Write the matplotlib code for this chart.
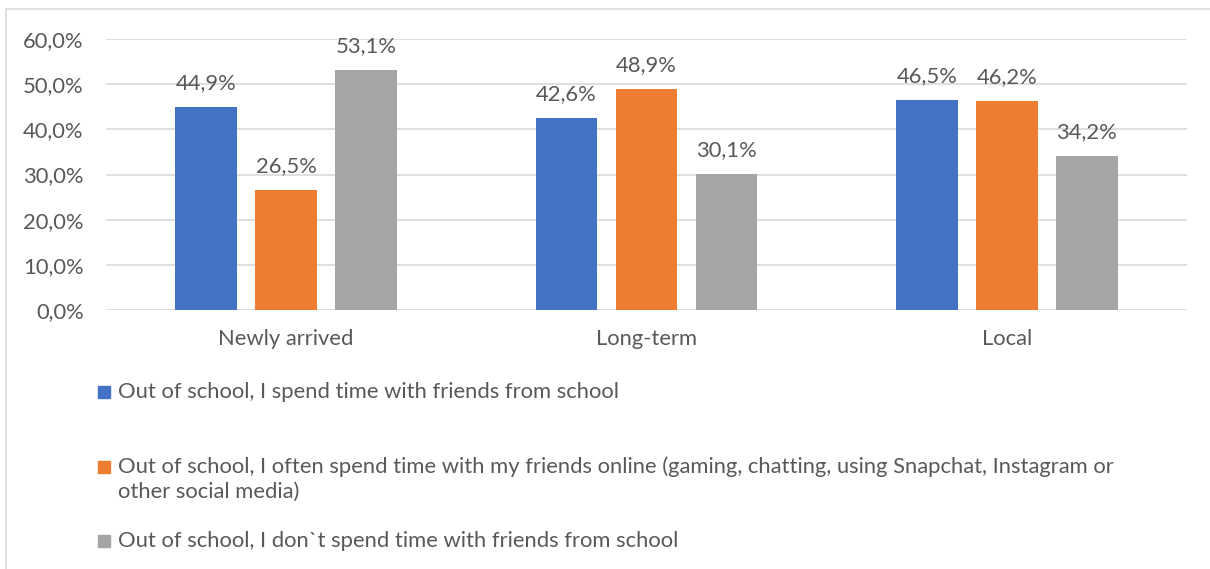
import numpy as np
import matplotlib.pyplot as plt
from matplotlib.patches import Rectangle
from matplotlib.lines import Line2D

plt.rcParams['font.family'] = ['Lato', 'DejaVu Sans']

groups = ['Newly arrived', 'Long-term', 'Local']
series_names = [
    'Out of school, I spend time with friends from school',
    'Out of school, I often spend time with my friends online (gaming, chatting, using Snapchat, Instagram or\nother social media)',
    'Out of school, I don`t spend time with friends from school',
]
with_friends = [44.9, 42.6, 46.5]
online = [26.5, 48.9, 46.2]
not_with_friends = [53.1, 30.1, 34.2]
colors = ['#4472c4', '#ed7d31', '#a5a5a5']
yticks = [0, 10, 20, 30, 40, 50, 60]

W, H = 1210, 569
fig = plt.figure(figsize=(W / 100, H / 100), dpi=100)
txt = '#595959'
grid = '#d9d9d9'
fs = 15.8

# outer chart frame (runs off the right and bottom edges)
fig.add_artist(Line2D([6 / W, 6 / W], [0, 1 - 9 / H], color=grid, lw=1.2, transform=fig.transFigure))
fig.add_artist(Line2D([6 / W, 1], [1 - 9 / H, 1 - 9 / H], color=grid, lw=1.2, transform=fig.transFigure))

ax = fig.add_axes([106 / W, 1 - 310 / H, (1187 - 106) / W, (310 - 39) / H])
x = np.arange(len(groups))
bw = 0.172
step = 0.222
for i, (vals, c) in enumerate(zip([with_friends, online, not_with_friends], colors)):
    bars = ax.bar(x + (i - 1) * step, vals, bw, color=c, zorder=3)
    ax.bar_label(bars, labels=[f'{v:.1f}%'.replace('.', ',') for v in vals],
                 padding=10, fontsize=fs, color=txt)

ax.set_xlim(-0.5, 2.5)
ax.set_ylim(0, 60)
ax.set_yticks(yticks)
ax.set_yticklabels([f'{t:.1f}%'.replace('.', ',') for t in yticks])
ax.set_xticks(x)
ax.set_xticklabels(groups)
ax.tick_params(length=0, labelsize=fs, labelcolor=txt)
ax.tick_params(axis='y', pad=16)
ax.tick_params(axis='x', pad=14)
ax.grid(axis='y', color=grid, lw=1.2, zorder=0)
for s in ax.spines.values():
    s.set_visible(False)

# legend entries, one per series, with the long one wrapped onto two lines
legend_y = [392, 467, 541]
for name, c, yy in zip(series_names, colors, legend_y):
    fig.add_artist(Rectangle((98 / W, 1 - (yy + 6) / H), 12 / W, 12 / H,
                             color=c, transform=fig.transFigure))
    for k, line in enumerate(name.split('\n')):
        fig.text(118 / W, 1 - (yy + 25 * k) / H, line, fontsize=fs, color=txt, va='center')

fig.savefig('out.png', dpi=100)
